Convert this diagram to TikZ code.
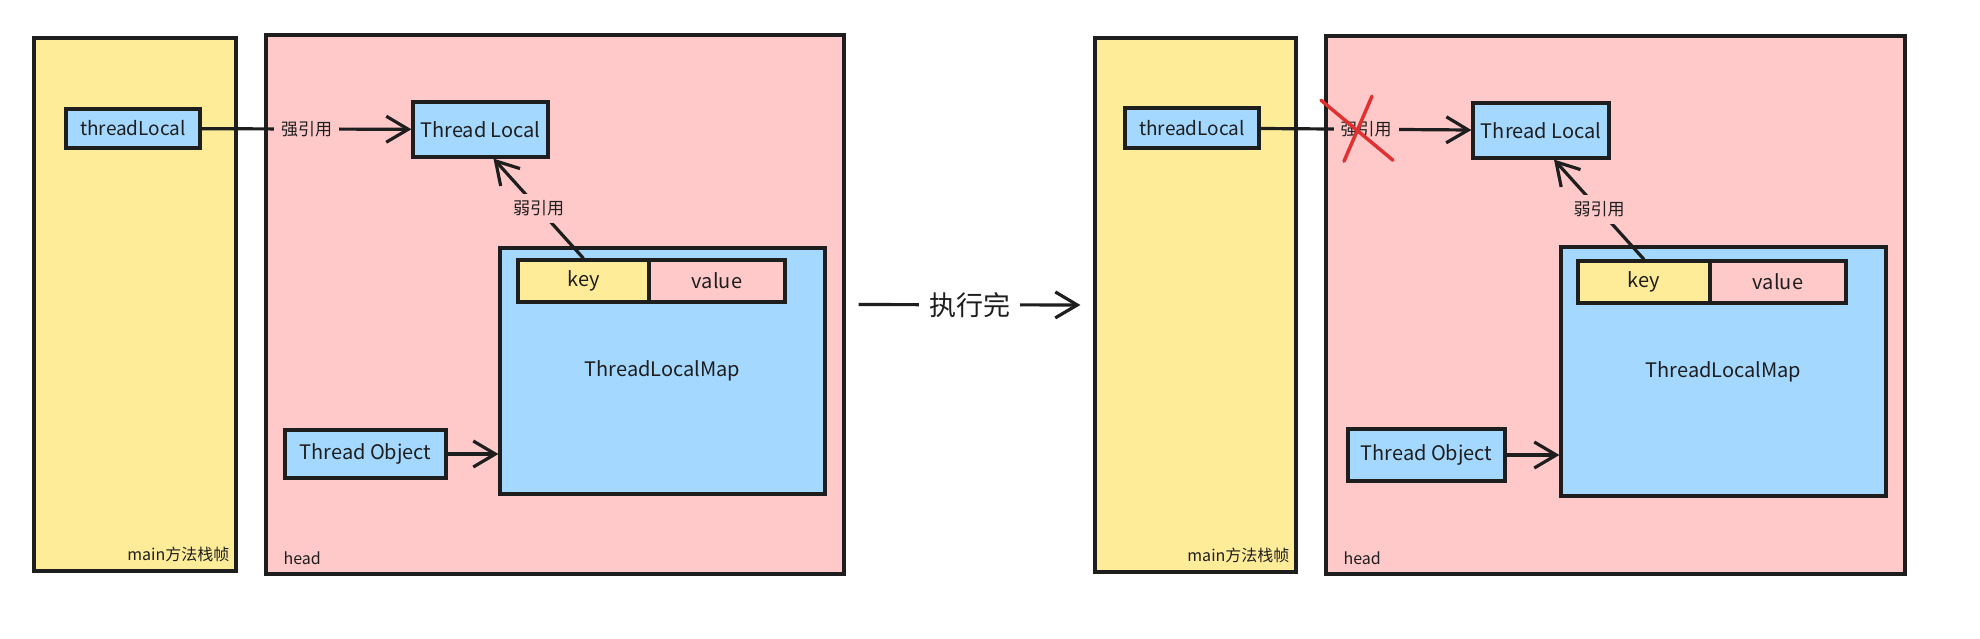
\documentclass[tikz,border=0pt]{standalone}
\usepackage{fontspec}
\setmainfont{Noto Sans CJK SC}
\usetikzlibrary{shapes,arrows.meta,positioning}
\definecolor{ink}{HTML}{1E1E1E}
\definecolor{stackyellow}{HTML}{FFEC99}
\definecolor{heappink}{HTML}{FFC9C9}
\definecolor{boxblue}{HTML}{A5D8FF}
\definecolor{crossred}{HTML}{E03131}
\tikzstyle{panel} = [rectangle, draw=ink, line width=3.2pt, inner sep=0pt]
\tikzstyle{block} = [rectangle, draw=ink, fill=boxblue, line width=3.2pt,
    inner sep=0pt, text centered, font=\fontsize{20}{24}\selectfont]
\tikzstyle{line} = [draw=ink, line width=3.2pt, -{Straight Barb[length=22pt,width=26pt]}]
\tikzstyle{tag} = [fill=heappink, inner sep=7pt, font=\fontsize{17}{20}\selectfont]
\tikzstyle{corner} = [inner sep=0pt, font=\fontsize{16}{19}\selectfont]
\tikzstyle{cross} = [draw=crossred, line width=3.5pt, line cap=round]

\begin{document}
\begin{tikzpicture}[x=1pt, y=-1pt, text=ink]
		\useasboundingbox (0,0) rectangle (1980,638);
		% before
		\node [panel, fill=stackyellow, minimum width=202pt, minimum height=533pt] (lstack) at (135,304.5) {};
		\node [panel, fill=heappink, minimum width=578pt, minimum height=539pt] (lheap) at (555,304.5) {};
		\node [block, minimum width=134pt, minimum height=39pt, font=\fontsize{19}{22}\selectfont] (ltl) at (133,128.5) {threadLocal};
		\node [block, minimum width=135pt, minimum height=55pt] (lobj) at (480.5,129.5) {Thread Local};
		\node [block, minimum width=325pt, minimum height=246pt] (lmap) at (662.5,371) {ThreadLocalMap};
		\node [block, fill=stackyellow, minimum width=131pt, minimum height=42pt, below right=12pt and 18pt of lmap.north west] (lkey) {key};
		\node [block, fill=heappink, minimum width=136pt, minimum height=42pt, right=-3.2pt of lkey] (lval) {value};
		\node [block, minimum width=161pt, minimum height=48pt] (lthread) at (365.5,454) {Thread Object};
		\node [corner, anchor=east] (lmainlbl) at ([shift={(-8pt,18pt)}]lstack.south east) {main方法栈帧};
		\node [corner, anchor=west] (lheadlbl) at ([shift={(19pt,17pt)}]lheap.south west) {head};
		
		\path [line] (ltl) -- node [tag] (lstrong) {强引用} (lobj);
		\path [line] (lkey.north) -- node [tag] (lweak) {弱引用} ([xshift=13pt]lobj.south);
		\path [line] (lthread.east) -- (lthread.east -| lmap.west);
		
		% after
		\node [panel, fill=stackyellow, minimum width=201pt, minimum height=534pt] (rstack) at (1195.5,305) {};
		\node [panel, fill=heappink, minimum width=579pt, minimum height=538pt] (rheap) at (1615.5,305) {};
		\node [block, minimum width=134pt, minimum height=40pt, font=\fontsize{19}{22}\selectfont] (rtl) at (1192,128) {threadLocal};
		\node [block, minimum width=136pt, minimum height=55pt] (robj) at (1541,130.5) {Thread Local};
		\node [block, minimum width=325pt, minimum height=249pt] (rmap) at (1723.5,371.5) {ThreadLocalMap};
		\node [block, fill=stackyellow, minimum width=132pt, minimum height=42pt, below right=14pt and 17pt of rmap.north west] (rkey) {key};
		\node [block, fill=heappink, minimum width=136pt, minimum height=42pt, right=-3.2pt of rkey] (rval) {value};
		\node [block, minimum width=157pt, minimum height=52pt] (rthread) at (1426.5,455) {Thread Object};
		\node [corner, anchor=east] (rmainlbl) at ([shift={(-8pt,18pt)}]rstack.south east) {main方法栈帧};
		\node [corner, anchor=west] (rheadlbl) at ([shift={(19pt,17pt)}]rheap.south west) {head};
		
		\path [line] (rtl) -- node [tag] (rstrong) {强引用} (robj);
		\path [line] (rkey.north) -- node [tag] (rweak) {弱引用} ([xshift=13pt]robj.south);
		\path [line] (rthread.east) -- (rthread.east -| rmap.west);
		\draw [cross] ([shift={(-45pt,29pt)}]rstrong.center) -- ([shift={(27pt,-31pt)}]rstrong.center);
		\draw [cross] ([shift={(6pt,33pt)}]rstrong.center) -- ([shift={(-22pt,-32pt)}]rstrong.center);
		
		% before -> after
		\path [line, shorten <=13pt, shorten >=13pt] (lheap.east) -- node [fill=white, inner sep=10pt, font=\fontsize{27}{30}\selectfont] (done) {执行完} (rstack.west);
	\end{tikzpicture}
\end{document}
